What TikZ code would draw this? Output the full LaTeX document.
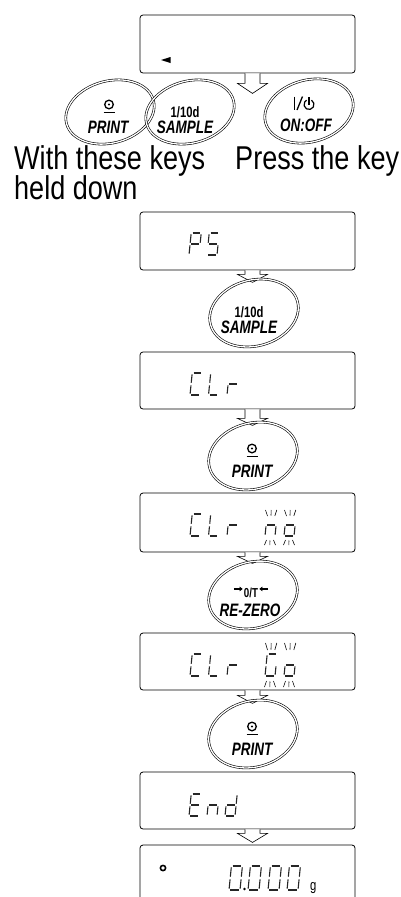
\documentclass[tikz,border=0pt]{standalone}
\usepackage{fontspec}
\setmainfont{Liberation Sans}
\newfontfamily\bigfont[FakeStretch=0.82]{Liberation Sans}
\newfontfamily\keyfont[FakeStretch=0.75]{Liberation Sans}
\usetikzlibrary{calc,shapes.geometric,arrows.meta}

\tikzset{
 disp/.style={draw, line width=0.8pt, rounded corners=3pt, minimum width=215pt, minimum height=58pt, inner sep=0pt},
 keyell/.style={ellipse, draw, double, double distance=1.3pt, line width=0.6pt, minimum width=90pt, minimum height=66pt, inner sep=0pt, rotate=15},
 blk/.style={draw, fill=white, line width=0.6pt, line join=miter},
 segline/.style={line width=1.1pt, black!85, line cap=butt},
 flash/.style={line width=0.6pt},
 keylabel/.style={font=\keyfont\bfseries\itshape\fontsize{18}{18}\selectfont, inner sep=0pt, anchor=base},
 keytop/.style={font=\keyfont\bfseries\fontsize{15}{15}\selectfont, inner sep=0pt, anchor=base},
 bigtext/.style={font=\bigfont\fontsize{33}{33}\selectfont, inner sep=0pt, anchor=base west},
 smallarr/.style={line width=1.3pt, -{Triangle[length=3.2pt,width=4.5pt]}},
 seg/.is family,
 seg/a/.code={\draw[segline] ({\sg},{2*\sh}) -- ({\sw-\sg},{2*\sh});},
 seg/b/.code={\draw[segline] ({\sw},{2*\sh-\sg}) -- ({\sw},{\sh+\sg});},
 seg/c/.code={\draw[segline] ({\sw},{\sh-\sg}) -- ({\sw},{\sg});},
 seg/d/.code={\draw[segline] ({\sg},0) -- ({\sw-\sg},0);},
 seg/e/.code={\draw[segline] (0,{\sh-\sg}) -- (0,{\sg});},
 seg/f/.code={\draw[segline] (0,{2*\sh-\sg}) -- (0,{\sh+\sg});},
 seg/g/.code={\draw[segline] ({\sg},{\sh}) -- ({\sw-\sg},{\sh});},
}
\def\sg{1.3}
\def\sh{11}
\newcommand\segdigit[4]{%
 \begin{scope}[shift={(#1,-#2)}, xslant=0.1]
  \def\sw{#3}%
  \pgfkeys{/tikz/seg/.cd,#4}%
 \end{scope}}
% blinking marks: x0, width, above top, above bottom, below top, below bottom
\newcommand\blinkmarks[6]{%
 \draw[flash] ({#1+0.5},{-#3}) -- ({#1+2.5},{-#4});
 \draw[flash] ({#1+#2/2+1.2},{-#3}) -- ({#1+#2/2+1},{-#4+0.5});
 \draw[flash] ({#1+#2+1.8},{-#3}) -- ({#1+#2-0.2},{-#4});
 \draw[flash] ({#1+1.5},{-#5}) -- ({#1-0.5},{-#6});
 \draw[flash] ({#1+#2/2},{-#5-0.5}) -- ({#1+#2/2-0.2},{-#6});
 \draw[flash] ({#1+#2-1.5},{-#5}) -- ({#1+#2+0.5},{-#6});}
% hollow block arrow below a display: node, shaft length, head length
\newcommand\blkarrow[3]{%
 \filldraw[blk] ($(#1.south)+(-2.5,0)$) -- ++(0,-#2) -- ++(-7.5,0) -- ++(15,-#3) -- ++(15,#3) -- ++(-7.5,0) -- ++(0,#2);}
% print symbol above key centre
\newcommand\printsym[1]{%
 \draw[line width=1.3pt] ($(#1)+(-1,7.5)$) circle (4.3);
 \fill ($(#1)+(-1,7.5)$) circle (1.2);
 \draw[line width=1.5pt] ($(#1)+(-6.5,-0.5)$) -- ($(#1)+(4.5,-0.5)$);}

\begin{document}
\begin{tikzpicture}[x=1pt,y=1pt]
\useasboundingbox (0,0) rectangle (401,-897);
\fill[white] (0,0) rectangle (401,-897);

% displays
\node[disp] (b1) at (247.5,-44) {};
\node[disp] (b2) at (247.5,-241) {};
\node[disp, minimum height=57pt] (b3) at (247.5,-380.5) {};
\node[disp, minimum height=59pt] (b4) at (247.5,-522.5) {};
\node[disp, minimum height=57pt] (b5) at (247.5,-661.5) {};
\node[disp, minimum height=57pt] (b6) at (247.5,-800.5) {};
\node[disp] (b7) at (247.5,-874) {};

% arrows
\blkarrow{b1}{10}{10}
\blkarrow{b2}{4}{8}
\blkarrow{b3}{9}{7}
\blkarrow{b4}{4}{7}
\blkarrow{b5}{5}{8}
\blkarrow{b6}{4}{9}

% top row keys
\node[keyell, minimum height=62pt] (k1) at (110,-112) {};
\node[keyell, minimum height=62pt] (k2) at (190,-112) {};
\node[keyell, minimum height=62pt] (k3) at (309,-111) {};
\printsym{k1}
\node[keylabel] (k1b) at ($(k1)+(-2,-21)$) {PRINT};
\node[keytop] (k2t) at ($(k2)+(-5,-5)$) {1/10d};
\node[keylabel] (k2b) at ($(k2)+(-5,-21)$) {SAMPLE};
\node[keylabel] (k3b) at ($(k3)+(-3,-20)$) {ON:OFF};
\draw[line width=1.7pt] ($(k3)+(-14.5,14.5)$) -- ($(k3)+(-14.5,1)$);
\draw[line width=1.3pt] ($(k3)+(-12,1)$) -- ($(k3)+(-6.5,14.5)$);
\draw[line width=1.2pt] ($(k3)+(0,6.5)+(60:5)$) arc[start angle=60, end angle=-240, radius=5];
\draw[line width=1.3pt] ($(k3)+(0,14)$) -- ($(k3)+(0,6.5)$);

% texts
\node[bigtext] (t1) at (14,-169) {With these keys};
\node[bigtext] (t2) at (14,-199) {held down};
\node[bigtext] (t3) at (235,-169) {Press the key};

% stack keys
\node[keyell] (k4) at (254,-313) {};
\node[keytop] (k4t) at ($(k4)+(-5,-4)$) {1/10d};
\node[keylabel] (k4b) at ($(k4)+(-5,-20)$) {SAMPLE};
\node[keyell] (k5) at (253,-456) {};
\printsym{k5}
\node[keylabel] (k5b) at ($(k5)+(-1,-21)$) {PRINT};
\node[keyell] (k6) at (253,-595) {};
\node[keytop, font=\keyfont\bfseries\fontsize{13}{13}\selectfont] (k6t) at ($(k6)+(-2,-2)$) {0/T};
\coordinate (k6l) at ($(k6t.west)+(-1,3.5)$);
\coordinate (k6r) at ($(k6t.east)+(1,3.5)$);
\draw[smallarr] ($(k6l)+(-9,0)$) -- (k6l);
\draw[smallarr] ($(k6r)+(9,0)$) -- (k6r);
\node[keylabel] (k6b) at ($(k6)+(-3,-21)$) {RE-ZERO};
\node[keyell] (k7) at (253,-734) {};
\printsym{k7}
\node[keylabel] (k7b) at ($(k7)+(-1,-21)$) {PRINT};

% display contents
\fill (161,-60) -- (170.5,-57) -- (170.5,-63) -- cycle;
\segdigit{189}{255}{10}{a,b,f,g,e}
\segdigit{207}{255}{10}{a,f,g,c,d}

\segdigit{190}{395}{10}{a,f,e,d}
\segdigit{208.5}{395}{10}{f,e,d}
\segdigit{227}{395}{10}{e,g}

\segdigit{190}{536}{10}{a,f,e,d}
\segdigit{208.5}{536}{10}{f,e,d}
\segdigit{227}{536}{10}{e,g}
\segdigit{265}{536}{10}{e,g,c}
\segdigit{284}{536}{10}{c,d,e,g}
\blinkmarks{265}{10}{510}{516}{540}{545}
\blinkmarks{284}{10}{510}{516}{540}{545}

\segdigit{190}{676}{10}{a,f,e,d}
\segdigit{208.5}{676}{10}{f,e,d}
\segdigit{227}{676}{10}{e,g}
\segdigit{265}{676}{10}{a,f,e,d,c}
\segdigit{284}{676}{10}{c,d,e,g}
\blinkmarks{265}{10}{643}{650}{681}{687}
\blinkmarks{284}{10}{643}{650}{681}{687}

\segdigit{189}{816}{10}{a,f,g,e,d}
\segdigit{207}{816}{10}{e,g,c}
\segdigit{225}{816}{10}{b,c,d,e,g}

\draw[line width=1.6pt] (163,-868) circle (2.6);
\def\sh{12}
\segdigit{229}{890}{11}{a,b,c,d,e,f}
\fill (244.5,-889) circle (1.3);
\segdigit{248}{890}{11}{a,b,c,d,e,f}
\segdigit{268}{890}{11}{a,b,c,d,e,f}
\segdigit{287}{890}{11}{a,b,c,d,e,f}
\node[font=\keyfont\fontsize{15}{15}\selectfont, inner sep=0pt, anchor=base west] (gunit) at (310,-890) {g};
\end{tikzpicture}
\end{document}
